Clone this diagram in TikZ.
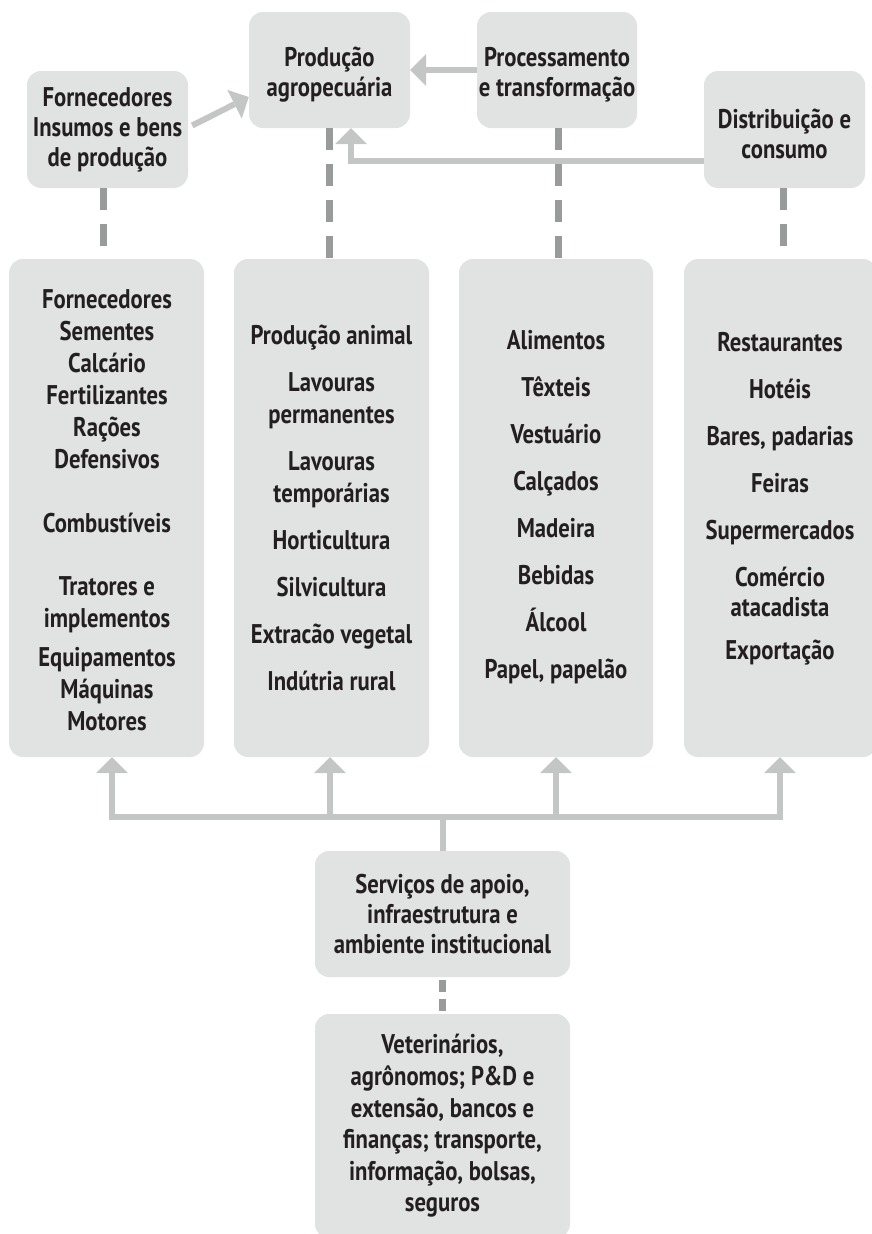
\documentclass[tikz,border=0pt]{standalone}
\usepackage{fontspec}
\setmainfont{PT Sans}[FakeStretch=0.84]
\usetikzlibrary{arrows.meta}
\definecolor{boxgray}{RGB}{225,226,226}
\definecolor{arrgray}{RGB}{196,198,198}
\definecolor{dashgray}{RGB}{153,155,155}
\definecolor{txtcol}{RGB}{35,31,32}
\newcommand\tallstrut{\rule{0pt}{28pt}}
\begin{document}
\begin{tikzpicture}[x=1pt,y=-1pt,
  box/.style={fill=boxgray, rounded corners=14pt, inner sep=0pt, align=center, text=txtcol, font=\bfseries\fontsize{27}{30}\selectfont},
  txt/.style={inner sep=0pt, align=center, text=txtcol, font=\bfseries\fontsize{27}{32}\selectfont},
  arr/.style={draw=arrgray, line width=6pt, line join=miter, -{Triangle[length=16pt,width=32pt,line width=0pt]}},
  dashline/.style={draw=dashgray, line width=7pt, dash pattern=on 22pt off 14pt},
  dashshort/.style={draw=dashgray, line width=7pt, dash pattern=on 12pt off 7pt},
]
\useasboundingbox (0,0) rectangle (871,1234);

% top row
\node[box, minimum width=161pt, minimum height=117pt] (forn) at (107.5,129.5) {Fornecedores\\Insumos e bens\\de produção};
\node[box, minimum width=161pt, minimum height=116pt] (prod) at (329.5,70) {\tallstrut Produção\\agropecuária};
\node[box, minimum width=160pt, minimum height=116pt] (proc) at (557,70) {\tallstrut Processamento\\e transformação};
\node[box, minimum width=161pt, minimum height=117pt] (dist) at (784.5,129.5) {\tallstrut Distribuição e\\consumo};

% main columns
\node[box, minimum width=195pt, minimum height=498pt] (b1) at (106.5,508) {};
\node[box, minimum width=195pt, minimum height=498pt] (b2) at (331.5,508) {};
\node[box, minimum width=194pt, minimum height=498pt] (b3) at (556,508) {};
\node[box, minimum width=193pt, minimum height=498pt] (b4) at (780.5,508) {};

\node[txt] (t1) at (107,510) {Fornecedores\\Sementes\\Calcário\\Fertilizantes\\Rações\\Defensivos\\[32pt]Combustíveis\\[31pt]Tratores e\\implementos\\[7pt]Equipamentos\\Máquinas\\Motores};
\node[txt] (t2) at (331.5,508) {Produção animal\\[15pt]Lavouras\\permanentes\\[15pt]Lavouras\\temporárias\\[15pt]Horticultura\\[15pt]Silvicultura\\[15pt]Extracão vegetal\\[15pt]Indútria rural};
\node[txt] (t3) at (556,507) {Alimentos\\[15pt]Têxteis\\[15pt]Vestuário\\[15pt]Calçados\\[15pt]Madeira\\[15pt]Bebidas\\[15pt]Álcool\\[15pt]Papel, papelão};
\node[txt] (t4) at (780,499) {Restaurantes\\[15pt]Hotéis\\[15pt]Bares, padarias\\[15pt]Feiras\\[15pt]Supermercados\\[15pt]Comércio\\[-2pt]atacadista\\[11pt]Exportação};

% bottom
\node[box, minimum width=255pt, minimum height=126pt] (serv) at (442.5,914) {Serviços de apoio,\\infraestrutura e\\ambiente institucional};
\node[box, minimum width=255pt, minimum height=224pt, font=\bfseries\fontsize{27}{31.6}\selectfont] (vet) at (442.5,1126) {Veterinários,\\agrônomos; P\&D e\\extensão, bancos e\\finanças; transporte,\\informação, bolsas,\\seguros};

% top connectors
\draw[arr] ([shift={(4,-4)}]forn.east) -- ([shift={(0,27)}]prod.west);
\draw[arr] (proc.west) -- (prod.east);
\coordinate (pin) at ([shift={(21.5,0)}]prod.south);
\draw[arr] ([shift={(0,31.5)}]dist.west) -| (pin);

% dashed links
\coordinate (fd) at ([xshift=-4pt]forn.south);
\draw[dashline] (fd) -- (fd |- b1.north);
\draw[dashline] (prod.south) -- (prod.south |- b2.north);
\coordinate (pd) at ([xshift=1pt]proc.south);
\draw[dashline] (pd) -- (pd |- b3.north);
\coordinate (dd) at ([xshift=-1.5pt]dist.south);
\draw[dashline] (dd) -- (dd |- b4.north);
\draw[dashshort] ([shift={(0,3)}]serv.south) -- (vet.north);

% support arrows
\coordinate (hub) at (443,817);
\coordinate (a1) at ([xshift=5.5pt]b1.south);
\coordinate (a2) at ([xshift=-1.5pt]b2.south);
\coordinate (a3) at (b3.south);
\coordinate (a4) at ([xshift=-0.5pt]b4.south);
\foreach \a in {a1,a2,a3,a4}
  \draw[arr] (serv.north) |- (hub -| \a) -- (\a);
\end{tikzpicture}
\end{document}
